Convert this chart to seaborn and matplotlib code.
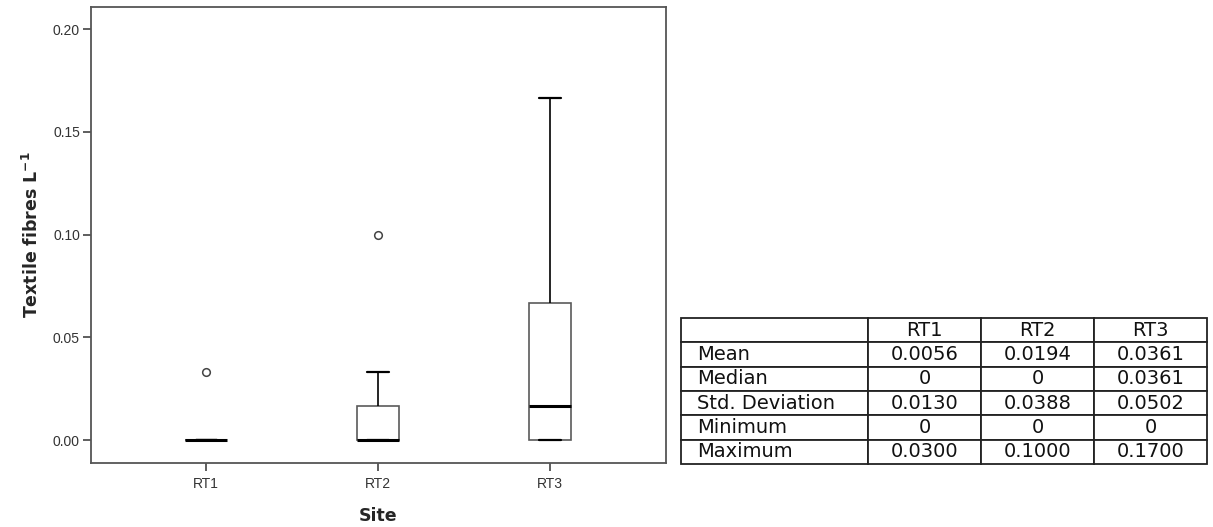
import numpy as np
import pandas as pd
import matplotlib
matplotlib.use("Agg")
import matplotlib.pyplot as plt
import seaborn as sns

# ---- data (fibres per litre) ----
sites = ["RT1", "RT2", "RT3"]
rt1_values = [0, 0, 0, 0, 0, 0.0333]
rt2_values = [0, 0, 0, 0, 0, 0.0167, 0.0167, 0.0333, 0.1000]
rt3_values = [0, 0, 0, 0, 0.0167, 0.0333, 0.0667, 0.1000, 0.1667]

y_ticks = [0.00, 0.05, 0.10, 0.15, 0.20]
y_tick_labels = ["0.00", "0.05", "0.10", "0.15", "0.20"]

table_col_labels = ["", "RT1", "RT2", "RT3"]
table_row_labels = ["Mean", "Median", "Std. Deviation", "Minimum", "Maximum"]
table_rt1 = ["0.0056", "0", "0.0130", "0", "0.0300"]
table_rt2 = ["0.0194", "0", "0.0388", "0", "0.1000"]
table_rt3 = ["0.0361", "0.0361", "0.0502", "0", "0.1700"]

# ---- long data frame ----
df = pd.DataFrame({
    "Site": ["RT1"] * len(rt1_values) + ["RT2"] * len(rt2_values) + ["RT3"] * len(rt3_values),
    "value": rt1_values + rt2_values + rt3_values,
})

sns.set_style("white")
plt.rcParams["font.family"] = ["DejaVu Sans"]

W, H = 1213, 527
fig = plt.figure(figsize=(W / 100, H / 100), dpi=100)
fig.patch.set_facecolor("white")

def rect(l, t, r, b):
    return [l / W, 1 - b / H, (r - l) / W, (b - t) / H]

ax = fig.add_axes(rect(91, 7.3, 665.7, 462.7))

sns.boxplot(
    data=df, x="Site", y="value", order=sites, ax=ax,
    width=0.245, whis=1.5, color="white", linecolor="#555555", linewidth=1.2,
    boxprops=dict(facecolor="white", edgecolor="#5a5a5a", linewidth=1.2),
    whiskerprops=dict(color="black", linewidth=1.2),
    capprops=dict(color="black", linewidth=1.6),
    medianprops=dict(color="black", linewidth=2.2),
    flierprops=dict(marker="o", markersize=5.5, markerfacecolor="white",
                    markeredgecolor="#444444", markeredgewidth=1.1),
)

ax.set_xlim(-0.669, 2.673)
ax.set_ylim(-0.0110, 0.2107)
ax.set_yticks(y_ticks)
ax.set_yticklabels(y_tick_labels)

for s in ax.spines.values():
    s.set_color("#555555")
    s.set_linewidth(1.3)
    s.set_visible(True)

ax.tick_params(axis="both", which="major", direction="out", length=6,
               width=1.1, color="#333333", labelcolor="#333333", pad=2,
               bottom=True, left=True)
for lab in ax.get_xticklabels() + ax.get_yticklabels():
    lab.set_fontfamily("Liberation Sans")
    lab.set_fontsize(10)
ax.tick_params(axis="x", pad=4)

ax.set_xlabel("Site", fontsize=12.5, fontweight="bold", labelpad=12)
ax.set_ylabel(r"Textile fibres L$^{\mathbf{-1}}$", fontsize=12.5,
              fontweight="bold", labelpad=8)
ax.grid(False)

# ---- statistics table ----
tax = fig.add_axes(rect(681, 318, 1207, 464))
tax.axis("off")
cell_text = [[table_row_labels[i], table_rt1[i], table_rt2[i], table_rt3[i]]
             for i in range(len(table_row_labels))]
tbl = tax.table(cellText=cell_text, colLabels=table_col_labels,
                colWidths=[187 / 526, 113 / 526, 113 / 526, 113 / 526],
                bbox=[0, 0, 1, 1], cellLoc="center")
tbl.auto_set_font_size(False)
for (r, c), cell in tbl.get_celld().items():
    cell.set_edgecolor("#222222")
    cell.set_linewidth(1.3)
    cell.set_facecolor("white")
    t = cell.get_text()
    t.set_fontsize(14)
    t.set_color("#111111")
    t.set_fontfamily("DejaVu Sans")
    if c == 0 and r > 0:
        t.set_horizontalalignment("left")
        cell.PAD = 0.085

fig.savefig("out.png", dpi=100, facecolor="white")
